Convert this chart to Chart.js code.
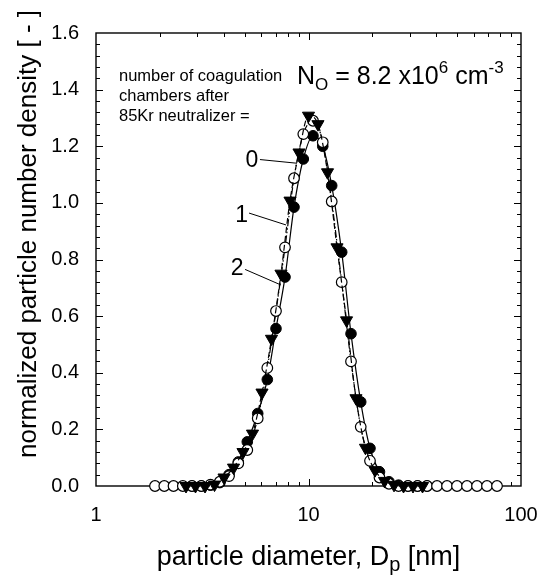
<!DOCTYPE html>
<html lang="en">
<head>
  <meta charset="utf-8">
  <title>Normalized particle size distribution</title>
  <script src="https://cdn.jsdelivr.net/npm/chart.js"></script>
  <style>
    * { box-sizing:border-box; margin:0; padding:0 }
    body { background:#fff; width:542px; height:577px; overflow:hidden }
    #wrap { position:relative; width:542px; height:577px }
  </style>
</head>
<body>
  <div id="wrap"><canvas id="psd"></canvas></div>

  <script>
  // ===== DATA =====
  // open circles
  const dOpen = [1.895, 2.096, 2.316, 2.562, 2.830, 3.130, 3.458, 3.825, 4.226, 4.673,
                 5.152, 5.768, 6.400, 7.031, 7.753, 8.547, 9.452, 10.50, 11.67, 12.86,
                 14.33, 15.85, 17.61, 19.47, 21.58, 23.92, 26.52, 29.39, 32.59, 36.12,
                 40.25, 44.86, 49.98, 55.70, 62.08, 69.18, 77.11];
  const nOpen = [0, 0, 0, 0, 0, 0, 0.005, 0.015, 0.035, 0.08,
                 0.127, 0.239, 0.417, 0.618, 0.843, 1.087, 1.243, 1.29, 1.214, 1.005,
                 0.72, 0.44, 0.209, 0.089, 0.03, 0.008, 0, 0, 0, 0,
                 0, 0, 0, 0, 0, 0, 0];

  // filled circles
  const dFilled = [2.830, 3.130, 3.458, 3.825, 4.226, 4.673, 5.152, 5.768, 6.400, 7.031,
                   7.753, 8.547, 9.452, 10.50, 11.67, 12.86, 14.33, 15.85, 17.61, 19.47,
                   21.58, 23.92, 26.52, 29.39, 32.59, 36.12];
  const nFilled = [0, 0, 0.003, 0.012, 0.04, 0.085, 0.156, 0.256, 0.376, 0.556,
                   0.738, 0.985, 1.155, 1.237, 1.2, 1.061, 0.826, 0.538, 0.297, 0.133,
                   0.05, 0.015, 0.003, 0, 0, 0];

  // filled triangles (down)
  const dTri = [2.652, 2.939, 3.259, 3.612, 4.004, 4.438, 4.918, 5.451, 6.042, 6.697,
                7.423, 8.184, 9.022, 10.00, 11.08, 12.29, 13.62, 15.10, 16.73, 18.54,
                20.56, 22.79, 25.26, 28.00, 31.03, 34.40];
  const nTri = [0, 0, 0, 0.005, 0.03, 0.065, 0.12, 0.185, 0.33, 0.52,
                0.75, 1.008, 1.178, 1.308, 1.278, 1.108, 0.843, 0.585, 0.31, 0.135,
                0.056, 0.018, 0.004, 0, 0, 0];

  const xTickVals = [1, 10, 100];
  const yTickVals = [0, 0.2, 0.4, 0.6, 0.8, 1.0, 1.2, 1.4, 1.6];
  const curveLabels = ['0', '1', '2'];

  // ===== Helpers =====
  const FONT = '"Liberation Sans", Arial, sans-serif';
  const pts = (xs, ys) => xs.map((d, i) => ({ x: d, y: ys[i] }));

  // draw a run of text pieces (for sub/superscripts), left aligned
  function drawRich(ctx, parts, x, y) {
    let cx = x;
    parts.forEach(p => {
      ctx.font = p.size + 'px ' + FONT;
      ctx.fillText(p.t, cx, y + (p.dy || 0));
      cx += ctx.measureText(p.t).width;
    });
    return cx - x;
  }
  function richWidth(ctx, parts) {
    let w = 0;
    parts.forEach(p => { ctx.font = p.size + 'px ' + FONT; w += ctx.measureText(p.t).width; });
    return w;
  }

  // ===== Frame, ticks, titles, notes =====
  const decor = {
    id: 'decor',
    beforeDatasetsDraw(chart) {
      const { ctx, chartArea: a, scales: { x, y } } = chart;
      ctx.save();
      ctx.strokeStyle = '#000';
      ctx.lineWidth = 1.4;
      ctx.strokeRect(a.left, a.top, a.right - a.left, a.bottom - a.top);
      ctx.lineWidth = 1;
      ctx.beginPath();
      // x ticks: 2..9, 10, 20..90
      for (let dec = 1; dec < 100; dec *= 10) {
        for (let m = 2; m <= 10; m++) {
          const v = m * dec;
          if (v >= 100) break;
          const px = Math.round(x.getPixelForValue(v)) + 0.5;
          const len = (m === 10) ? 7 : 4;
          ctx.moveTo(px, a.bottom); ctx.lineTo(px, a.bottom - len);
          ctx.moveTo(px, a.top);    ctx.lineTo(px, a.top + len);
        }
      }
      // y ticks every 0.04
      for (let i = 1; i < 40; i++) {
        const py = Math.round(y.getPixelForValue(i * 0.04)) + 0.5;
        const len = (i % 5 === 0) ? 7 : 4;
        ctx.moveTo(a.left, py);  ctx.lineTo(a.left + len, py);
        ctx.moveTo(a.right, py); ctx.lineTo(a.right - len, py);
      }
      ctx.stroke();
      ctx.restore();
    },
    afterDatasetsDraw(chart) {
      const { ctx, chartArea: a, scales: { x, y } } = chart;
      ctx.save();
      ctx.fillStyle = '#000';
      ctx.strokeStyle = '#000';

      // curve labels with pointer lines (data coords)
      const lab = [
        { p: [5.42, 1.149], l: [[5.91, 1.153], [8.83, 1.140]] },
        { p: [4.85, 0.955], l: [[5.25, 0.964], [7.84, 0.922]] },
        { p: [4.62, 0.767], l: [[5.03, 0.765], [7.42, 0.710]] }
      ];
      ctx.font = '23px ' + FONT;
      ctx.textAlign = 'center';
      ctx.textBaseline = 'middle';
      ctx.lineWidth = 1;
      lab.forEach((o, i) => {
        ctx.fillText(curveLabels[i], x.getPixelForValue(o.p[0]), y.getPixelForValue(o.p[1]));
        ctx.beginPath();
        ctx.moveTo(x.getPixelForValue(o.l[0][0]), y.getPixelForValue(o.l[0][1]));
        ctx.lineTo(x.getPixelForValue(o.l[1][0]), y.getPixelForValue(o.l[1][1]));
        ctx.stroke();
      });

      // note text
      ctx.textAlign = 'left';
      ctx.textBaseline = 'alphabetic';
      ctx.font = '16.5px ' + FONT;
      ctx.fillText('number of coagulation', a.left + 23, a.top + 48);
      ctx.fillText('chambers after', a.left + 23, a.top + 68);
      ctx.fillText('85Kr neutralizer =', a.left + 23, a.top + 88);

      drawRich(ctx, [
        { t: 'N', size: 25 }, { t: 'O', size: 17, dy: 6 },
        { t: ' = 8.2 x10', size: 25 }, { t: '6', size: 17, dy: -11 },
        { t: ' cm', size: 25 }, { t: '-3', size: 17, dy: -11 }
      ], a.left + 201, a.top + 51);

      // x title
      const xt = [
        { t: 'particle diameter, D', size: 27 }, { t: 'p', size: 20, dy: 6 },
        { t: ' [nm]', size: 27 }
      ];
      const w = richWidth(ctx, xt);
      drawRich(ctx, xt, (a.left + a.right) / 2 - w / 2, 565);

      // y title
      ctx.translate(36, 234);
      ctx.rotate(-Math.PI / 2);
      ctx.textAlign = 'center';
      ctx.font = '26px ' + FONT;
      ctx.fillText('normalized particle number density [ - ]', 0, 0);
      ctx.restore();
    }
  };

  // ===== Chart.js =====
  Chart.defaults.font.family = FONT;
  Chart.defaults.color = '#000';

  const ctx = document.getElementById('psd').getContext('2d');
  new Chart(ctx, {
    type: 'scatter',
    data: {
      datasets: [
        {
          label: 'filled circles', data: pts(dFilled, nFilled), order: 2,
          showLine: true, borderColor: '#000', borderWidth: 1.2,
          cubicInterpolationMode: 'monotone',
          pointStyle: 'circle', pointRadius: 5.3, pointBackgroundColor: '#000',
          pointBorderColor: '#000', pointBorderWidth: 1, clip: false
        },
        {
          label: 'open circles', data: pts(dOpen, nOpen), order: 1,
          showLine: true, borderColor: '#000', borderWidth: 1.2, borderDash: [7, 2, 1.5, 2, 1.5, 2],
          cubicInterpolationMode: 'monotone',
          pointStyle: 'circle', pointRadius: 5.3, pointBackgroundColor: '#fff',
          pointBorderColor: '#000', pointBorderWidth: 1.2, clip: false
        },
        {
          label: 'triangles', data: pts(dTri, nTri), order: 0,
          showLine: true, borderColor: '#000', borderWidth: 1.2, borderDash: [6, 3],
          cubicInterpolationMode: 'monotone',
          pointStyle: 'triangle', pointRotation: 180, pointRadius: 7,
          pointBackgroundColor: '#000', pointBorderColor: '#000', pointBorderWidth: 1, clip: false
        }
      ]
    },
    options: {
      responsive: true, maintainAspectRatio: false, animation: false, devicePixelRatio: 1,
      layout: { padding: { top: 33, right: 21, left: 0, bottom: 0 } },
      plugins: { legend: { display: false }, tooltip: { enabled: false } },
      scales: {
        x: {
          type: 'logarithmic', min: 1, max: 100,
          grid: { display: false, drawTicks: false }, border: { display: false },
          ticks: { font: { size: 20 }, padding: 17, maxRotation: 0, autoSkip: false,
                   callback: v => String(v) },
          afterBuildTicks: s => { s.ticks = xTickVals.map(v => ({ value: v })); },
          afterFit: s => { s.height = 91; s.paddingLeft = 0; s.paddingRight = 0; }
        },
        y: {
          type: 'linear', min: 0, max: 1.6,
          grid: { display: false, drawTicks: false }, border: { display: false },
          ticks: { font: { size: 20 }, padding: 17, callback: v => Number(v).toFixed(1) },
          afterBuildTicks: s => { s.ticks = yTickVals.map(v => ({ value: v })); },
          afterFit: s => { s.width = 96; s.paddingTop = 0; s.paddingBottom = 0; }
        }
      }
    },
    plugins: [decor]
  });
  </script>
</body>
</html>
